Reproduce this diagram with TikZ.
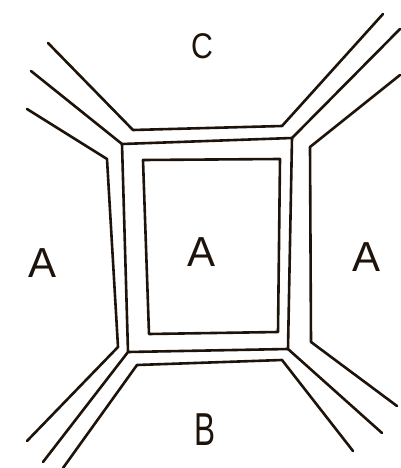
\documentclass[tikz,border=0pt]{standalone}
\usepackage{fontspec}
\setmainfont{Liberation Sans}
\begin{document}
\begin{tikzpicture}[x=1pt,y=-1pt,
  wall/.style={line width=2.6pt,draw=black!85!brown,line join=round,line cap=round},
  lbl/.style={font=\fontsize{42}{42}\selectfont,inner sep=0pt,text=black!85!brown}]
\useasboundingbox (0,0) rectangle (400,468);
% middle lines (outer frame)
\coordinate (m1) at (122,144);
\coordinate (m2) at (292,138);
\coordinate (m3) at (288,349);
\coordinate (m4) at (128,352);
\draw[wall] (31,71) -- (m1) -- (m2) -- (400,29);
\draw[wall] (m1) -- (m4) -- (43,462);
\draw[wall] (m2) -- (m3) -- (382,433);
\draw[wall] (m4) -- (m3);
% top band
\draw[wall] (48,43) -- (133,130) -- (282,126) -- (383,14);
% left band
\draw[wall] (27,109) -- (107,159) -- (118,347) -- (27,441);
% right band
\draw[wall] (400,75) -- (310,147) -- (311,342) -- (397,406);
% bottom band
\draw[wall] (63,468) -- (137,365) -- (282,360) -- (353,451);
% inner rectangle
\draw[wall] (143,160) -- (280,159) -- (278,332) -- (149,334) -- cycle;
% labels
\node[lbl,xscale=0.72,yscale=0.85] (c) at (202,46) {C};
\node[lbl] (al) at (43,263) {A};
\node[lbl] (am) at (202,252) {A};
\node[lbl] (ar) at (367,257) {A};
\node[lbl,xscale=0.75,yscale=1.1] (b) at (205,430) {B};
\end{tikzpicture}
\end{document}
